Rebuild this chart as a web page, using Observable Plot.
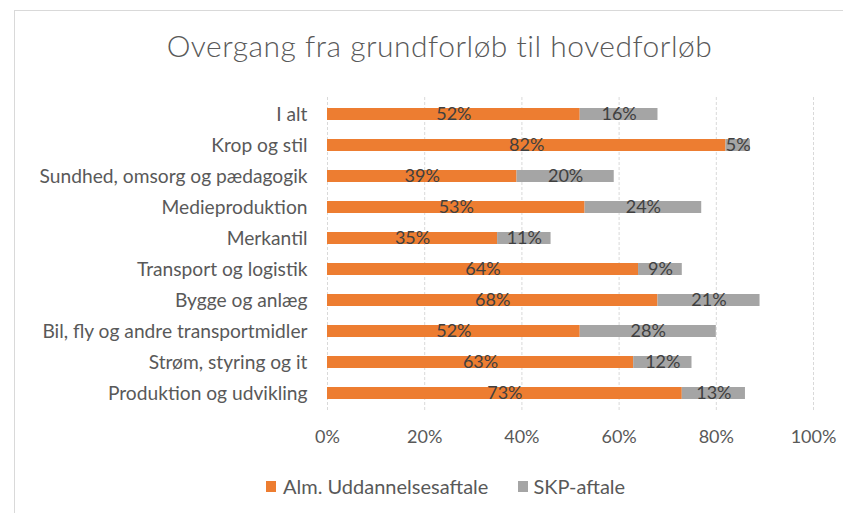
<!DOCTYPE html>
<html>
<head>
<meta charset="utf-8">
<script src="https://cdn.jsdelivr.net/npm/d3@7"></script>
<script src="https://cdn.jsdelivr.net/npm/@observablehq/plot@0.6"></script>
<style>
  html, body { margin: 0; padding: 0; background: #fff; overflow: hidden; }
  #wrap { position: relative; width: 843px; height: 513px; font-family: Lato, "Open Sans", sans-serif; }
  #frame { position: absolute; left: 14px; top: 10px; width: 851px; height: 540px; border: 1px solid #d9d9d9; box-sizing: border-box; }
  #title { position: absolute; left: 14px; width: 851px; top: 27px; text-align: center; font-size: 30px; font-weight: 300; letter-spacing: 0.5px; color: #595959; white-space: nowrap; }
  #chart { position: absolute; left: 0; top: 0; }
  #legend { position: absolute; left: 266px; top: 474px; display: flex; gap: 30px; font-size: 20px; color: #595959; white-space: nowrap; }
  .item { display: flex; align-items: center; gap: 7px; }
  .item + .item { gap: 5px; }
  .sw { width: 10px; height: 11px; display: inline-block; }
</style>
</head>
<body>
<div id="wrap">
  <div id="frame"></div>
  <div id="chart"></div>
  <div id="title">Overgang fra grundforløb til hovedforløb</div>
  <div id="legend"></div>
</div>
<script>
const categories = [
  "I alt",
  "Krop og stil",
  "Sundhed, omsorg og pædagogik",
  "Medieproduktion",
  "Merkantil",
  "Transport og logistik",
  "Bygge og anlæg",
  "Bil, fly og andre transportmidler",
  "Strøm, styring og it",
  "Produktion og udvikling"
];
const almValues = [52, 82, 39, 53, 35, 64, 68, 52, 63, 73];
const skpValues = [16, 5, 20, 24, 11, 9, 21, 28, 12, 13];
const seriesNames = ["Alm. Uddannelsesaftale", "SKP-aftale"];
const seriesColors = ["#ED7D31", "#A5A5A5"];
const xTicks = [0, 20, 40, 60, 80, 100];

const data = categories.flatMap((c, i) => [
  {cat: c, series: seriesNames[0], value: almValues[i]},
  {cat: c, series: seriesNames[1], value: skpValues[i]}
]);

const chart = Plot.plot({
  width: 843,
  height: 450,
  marginLeft: 327,
  marginRight: 30,
  marginTop: 97,
  marginBottom: 39,
  style: {fontFamily: "Lato, 'Open Sans', sans-serif", fontSize: "18px", color: "#595959", background: "transparent"},
  x: {domain: [0, 100], ticks: xTicks, tickFormat: d => d + "%", tickSize: 0, tickPadding: 19, label: null},
  y: {domain: categories, paddingInner: 0.6, paddingOuter: 0.3, tickSize: 0, tickPadding: 20, label: null},
  color: {domain: seriesNames, range: seriesColors},
  marks: [
    Plot.ruleX(xTicks, {stroke: "#d9d9d9", strokeDasharray: "3,2"}),
    Plot.barX(data, Plot.stackX({y: "cat", x: "value", fill: "series", z: "series", order: seriesNames})),
    Plot.text(data, Plot.stackX({y: "cat", x: "value", z: "series", order: seriesNames, text: d => d.value + "%", fill: "#404040", fontSize: 18}))
  ]
});
const yAxis = chart.querySelector('[aria-label="y-axis tick label"]');
if (yAxis) yAxis.setAttribute("font-size", "19.2px");
document.getElementById("chart").appendChild(chart);

const legend = document.getElementById("legend");
seriesNames.forEach((n, i) => {
  const it = document.createElement("div");
  it.className = "item";
  it.innerHTML = `<span class="sw" style="background:${seriesColors[i]}"></span><span>${n}</span>`;
  legend.appendChild(it);
});
</script>
</body>
</html>
